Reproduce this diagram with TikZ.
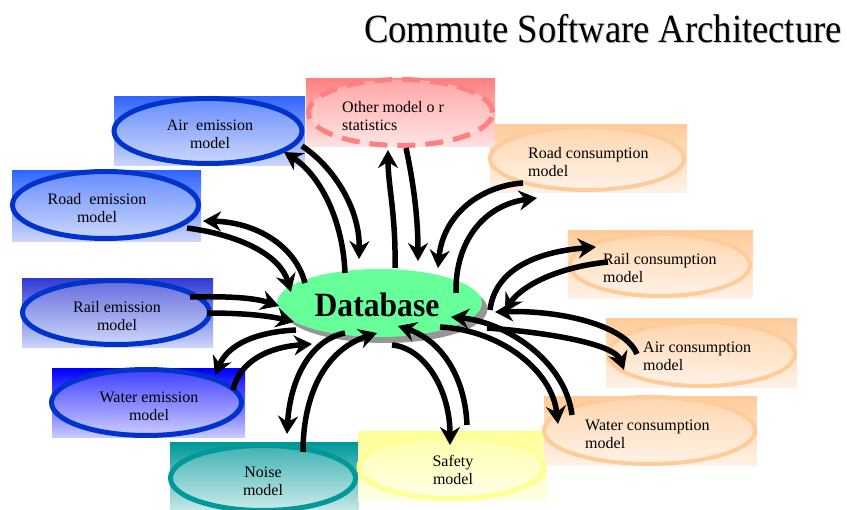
\documentclass[tikz,border=0pt]{standalone}
\usepackage{fontspec}
\setmainfont{Liberation Serif}
\usetikzlibrary{shapes.geometric,arrows.meta}
\definecolor{blueTop}{RGB}{51,102,255}
\definecolor{blueBot}{RGB}{205,215,250}
\definecolor{blueLine}{RGB}{0,51,204}
\definecolor{railTop}{RGB}{51,60,210}
\definecolor{waterTop}{RGB}{0,0,255}
\definecolor{waterBot}{RGB}{205,205,255}
\definecolor{tealTop}{RGB}{0,153,153}
\definecolor{tealBot}{RGB}{205,235,235}
\definecolor{yelTop}{RGB}{255,255,150}
\definecolor{yelBot}{RGB}{255,255,232}
\definecolor{peachTop}{RGB}{255,204,153}
\definecolor{peachBot}{RGB}{255,242,232}
\definecolor{pinkTop}{RGB}{255,128,128}
\definecolor{pinkBot}{RGB}{255,228,228}
\definecolor{dbGreen}{RGB}{102,255,153}
\definecolor{dbShade}{RGB}{150,150,150}
\begin{document}
\begin{tikzpicture}[x=1pt,y=-1pt,
  bgbox/.style={rectangle,inner sep=0pt,outer sep=0pt,draw=none},
  modell/.style={ellipse,inner sep=0pt,outer sep=0pt,line width=5pt},
  mtext/.style={inner sep=0pt,font=\fontsize{16}{18}\selectfont},
  flow/.style={line width=5.5pt,-{Stealth[length=18pt,width=20pt,inset=6pt]}}]
\useasboundingbox (0,0) rectangle (847,510);

% title
\node[text=gray!45,inner sep=0pt,font=\fontsize{40}{44}\selectfont] (titleShadow) at (604,29.5) {\scalebox{0.915}[1]{Commute Software Architecture}};
\node[inner sep=0pt,font=\fontsize{40}{44}\selectfont] (title) at (603,28.5) {\scalebox{0.915}[1]{Commute Software Architecture}};

% background boxes
\node[bgbox,minimum width=191pt,minimum height=69pt,top color=blueTop,bottom color=blueBot] (airBg) at (209.5,131.5) {};
\node[bgbox,minimum width=189pt,minimum height=71pt,top color=blueTop,bottom color=blueBot] (roadEBg) at (106.5,206.5) {};
\node[bgbox,minimum width=191pt,minimum height=69pt,top color=railTop,bottom color=blueBot] (railEBg) at (117.5,313.5) {};
\node[bgbox,minimum width=193pt,minimum height=69pt,top color=waterTop,bottom color=waterBot] (waterEBg) at (148.5,403.5) {};
\node[bgbox,minimum width=189pt,minimum height=69pt,top color=tealTop,bottom color=tealBot] (noiseBg) at (264.5,477.5) {};
\node[bgbox,minimum width=189pt,minimum height=70pt,top color=yelTop,bottom color=yelBot] (safetyBg) at (452.5,467) {};
\node[bgbox,minimum width=213pt,minimum height=69pt,top color=peachTop,bottom color=peachBot] (waterCBg) at (650.5,431.5) {};
\node[bgbox,minimum width=191pt,minimum height=69pt,top color=peachTop,bottom color=peachBot] (airCBg) at (701.5,353.5) {};
\node[bgbox,minimum width=185pt,minimum height=68pt,top color=peachTop,bottom color=peachBot] (railCBg) at (660.5,265) {};
\node[bgbox,minimum width=197pt,minimum height=68pt,top color=peachTop,bottom color=peachBot] (roadCBg) at (588.5,159) {};
\node[bgbox,minimum width=189pt,minimum height=68pt,top color=pinkTop,bottom color=pinkBot] (otherBg) at (400.5,113) {};

% ellipses
\node[modell,draw=blueLine,minimum width=188pt,minimum height=65pt,top color=blueTop!75,bottom color=blueBot] (airE) at (208,131) {};
\node[modell,draw=blueLine,minimum width=186pt,minimum height=67pt,top color=blueTop!75,bottom color=blueBot] (roadE) at (105.5,205) {};
\node[modell,draw=blueLine,minimum width=187pt,minimum height=64pt,top color=railTop!75,bottom color=blueBot] (railE) at (116,312.5) {};
\node[modell,draw=blueLine,minimum width=190pt,minimum height=66pt,top color=waterTop!75,bottom color=waterBot] (waterE) at (146.5,402.5) {};
\node[modell,draw=tealTop,minimum width=185pt,minimum height=65pt,top color=tealTop!75,bottom color=tealBot] (noise) at (263,478) {};
\node[modell,draw=yelTop,minimum width=185pt,minimum height=63pt,top color=yelTop!80,bottom color=yelBot] (safety) at (451.5,467) {};
\node[modell,draw=peachTop,line width=4pt,minimum width=211pt,minimum height=67pt,top color=peachTop!80,bottom color=peachBot] (waterC) at (649.5,430.5) {};
\node[modell,draw=peachTop,line width=4pt,minimum width=187pt,minimum height=64pt,top color=peachTop!80,bottom color=peachBot] (airC) at (701.5,354) {};
\node[modell,draw=peachTop,line width=4pt,minimum width=180pt,minimum height=62pt,top color=peachTop!80,bottom color=peachBot] (railC) at (660,265) {};
\node[modell,draw=peachTop,line width=4pt,minimum width=194pt,minimum height=63pt,top color=peachTop!80,bottom color=peachBot] (roadC) at (587,158.5) {};
\node[modell,draw=pinkTop,dash pattern=on 18pt off 10pt,minimum width=184pt,minimum height=66pt,top color=pinkTop!70,bottom color=pinkBot] (other) at (400.5,112.5) {};

% database
\node[ellipse,inner sep=0pt,fill=dbShade,minimum width=205pt,minimum height=68pt] (dbShadow) at (385,309) {};
\node[ellipse,inner sep=0pt,fill=dbGreen,minimum width=205pt,minimum height=68pt] (db) at (379.5,303) {};
\node[inner sep=0pt,font=\fontsize{34}{36}\selectfont\bfseries] (dbText) at (377,305) {\scalebox{0.93}[1]{Database}};

% texts
\node[mtext,align=center] (airT) at (210,134) {Air\ \ emission\\model};
\node[mtext,align=center] (roadET) at (97,208) {Road\ \ emission\\model};
\node[mtext,align=center] (railET) at (117,316) {Rail emission\\model};
\node[mtext,align=center] (waterET) at (149,406) {Water emission\\model};
\node[mtext,align=center] (noiseT) at (263,481) {Noise\\model};
\node[mtext,align=center] (safetyT) at (453,470) {Safety\\model};
\node[mtext,align=left,anchor=west] (waterCT) at (585,434) {Water consumption\\model};
\node[mtext,align=left,anchor=west] (airCT) at (643,356) {Air consumption\\model};
\node[mtext,align=left,anchor=west] (railCT) at (603,268) {Rail consumption\\model};
\node[mtext,align=left,anchor=west] (roadCT) at (528,162) {Road consumption\\model};
\node[mtext,align=left,anchor=west] (otherT) at (342,116) {Other model o r\\statistics};

% connector end points
\coordinate (aeOut) at (302,146); \coordinate (aeIn) at (284,152);
\coordinate (dbAeIn) at (359,259); \coordinate (dbAeOut) at (345,273);
\coordinate (dbOtOut) at (395,268); \coordinate (otIn) at (388,150);
\coordinate (otOut) at (406,148); \coordinate (dbOtIn) at (418,261);
\coordinate (rcOut) at (523,183); \coordinate (dbRcIn) at (438,268);
\coordinate (dbRcOut) at (456,293); \coordinate (rcIn) at (537,198);
\coordinate (dbReOut) at (305,283); \coordinate (reIn) at (203,221);
\coordinate (reOut) at (187,228); \coordinate (dbReIn) at (291,292);
\coordinate (rlOut1) at (190,297); \coordinate (dbRl1) at (279,306);
\coordinate (rlOut2) at (207,313); \coordinate (dbRl2) at (294,322);
\coordinate (dbWeOut) at (296,330); \coordinate (weIn) at (215,375);
\coordinate (weOut) at (233,390); \coordinate (dbWeIn) at (312,344);
\coordinate (dbNoOut) at (345,333); \coordinate (noIn) at (287,434);
\coordinate (noOut) at (303,452); \coordinate (dbNoIn) at (377,333);
\coordinate (dbSaOut) at (392,345); \coordinate (saIn) at (450,445);
\coordinate (saOut) at (467,425); \coordinate (dbSaIn) at (398,326);
\coordinate (dbWcOut) at (440,327); \coordinate (wcIn) at (558,424);
\coordinate (wcOut) at (572,415); \coordinate (dbWcIn) at (451,317);
\coordinate (acOut) at (637,354); \coordinate (dbAcIn) at (495,312);
\coordinate (dbAcOut) at (487,328); \coordinate (acIn) at (624,370);
\coordinate (dbRrOut) at (490,310); \coordinate (rrIn) at (596,247);
\coordinate (rrOut) at (608,262); \coordinate (dbRrIn) at (505,312);

% connectors
\draw[flow] (aeOut) .. controls (335,168) and (360,210) .. (dbAeIn);
\draw[flow] (dbAeOut) .. controls (343,220) and (320,175) .. (aeIn);
\draw[flow] (dbOtOut) .. controls (396,215) and (388,185) .. (otIn);
\draw[flow] (otOut) .. controls (414,185) and (418,220) .. (dbOtIn);
\draw[flow] (rcOut) .. controls (480,186) and (443,215) .. (dbRcIn);
\draw[flow] (dbRcOut) .. controls (455,240) and (485,205) .. (rcIn);
\draw[flow] (dbReOut) .. controls (295,245) and (255,222) .. (reIn);
\draw[flow] (reOut) .. controls (240,235) and (280,255) .. (dbReIn);
\draw[flow] (rlOut1) .. controls (230,296) and (255,298) .. (dbRl1);
\draw[flow] (rlOut2) .. controls (245,313) and (270,316) .. (dbRl2);
\draw[flow] (dbWeOut) .. controls (255,332) and (228,345) .. (weIn);
\draw[flow] (weOut) .. controls (240,360) and (270,347) .. (dbWeIn);
\draw[flow] (dbNoOut) .. controls (310,340) and (290,380) .. (noIn);
\draw[flow] (noOut) .. controls (303,395) and (325,350) .. (dbNoIn);
\draw[flow] (dbSaOut) .. controls (425,348) and (450,390) .. (saIn);
\draw[flow] (saOut) .. controls (465,375) and (440,340) .. (dbSaIn);
\draw[flow] (dbWcOut) .. controls (500,330) and (552,370) .. (wcIn);
\draw[flow] (wcOut) .. controls (565,360) and (505,322) .. (dbWcIn);
\draw[flow] (acOut) .. controls (625,325) and (560,310) .. (dbAcIn);
\draw[flow] (dbAcOut) .. controls (555,333) and (615,345) .. (acIn);
\draw[flow] (dbRrOut) .. controls (495,270) and (535,252) .. (rrIn);
\draw[flow] (rrOut) .. controls (550,268) and (518,290) .. (dbRrIn);
\end{tikzpicture}
\end{document}
